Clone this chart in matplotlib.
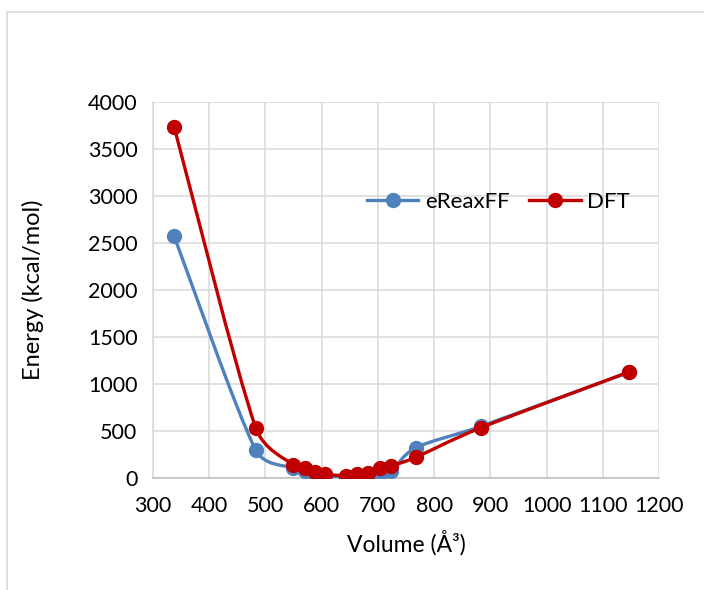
import matplotlib
matplotlib.use("Agg")
import matplotlib.pyplot as plt
from matplotlib.path import Path
from matplotlib.patches import PathPatch, Rectangle
from matplotlib.lines import Line2D
import numpy as np

plt.rcParams['font.family'] = ['Lato', 'DejaVu Sans']

# Cell volume (Å^3) and relative energy (kcal/mol)
volume = [338, 483, 550, 570, 588, 606, 643, 662, 683, 704, 724, 767, 883, 1146]
ereaxff = [2574, 298, 105, 75, 42, 20, 5, 5, 10, 30, 72, 320, 550, 1125]
dft = [3737, 535, 138, 103, 67, 39, 25, 39, 56, 103, 128, 220, 535, 1128]

series_names = ["eReaxFF", "DFT"]
x_ticks = [300, 400, 500, 600, 700, 800, 900, 1000, 1100, 1200]
y_ticks = [0, 500, 1000, 1500, 2000, 2500, 3000, 3500, 4000]

BLUE = "#4F81BD"
RED = "#C00000"
GRID = "#D9D9D9"


def smooth_path(ax, x, y, k=0.45):
    """Smoothed Bezier path through the points, built in display space.
    Handles follow the Catmull-Rom tangent but are capped relative to the
    on-screen length of each segment to avoid overshoot."""
    to_disp = ax.transData
    p = to_disp.transform(np.column_stack([x, y]).astype(float))
    n = len(p)

    def handle(v, seg):
        L = np.hypot(*v)
        if L == 0:
            return v
        length = min(L / 6.0, seg * k)
        return v / L * length

    verts = [p[0]]
    codes = [Path.MOVETO]
    for i in range(n - 1):
        p0 = p[i - 1] if i > 0 else p[i]
        p1 = p[i]
        p2 = p[i + 1]
        p3 = p[i + 2] if i + 2 < n else p[i + 1]
        seg = np.hypot(*(p2 - p1))
        c1 = p1 + handle(p2 - p0, seg)
        c2 = p2 - handle(p3 - p1, seg)
        verts += [c1, c2, p2]
        codes += [Path.CURVE4] * 3
    verts = to_disp.inverted().transform(np.array(verts))
    return Path(verts, codes)


fig = plt.figure(figsize=(7.04, 5.90), dpi=100)
ax = fig.add_axes([152.7 / 704, 1 - 478 / 590, (659.4 - 152.7) / 704, (478 - 102) / 590])
ax.set_xlim(300, 1200)
ax.set_ylim(0, 4000)

# outer chart border
fig.patches.append(Rectangle((6.5 / 704, -0.1), 1.2, 1.1 - 11.5 / 590,
                             transform=fig.transFigure, fill=False,
                             edgecolor=GRID, linewidth=1.2, zorder=0))

lw = 2.4
ms = 10
for vals, color, z in [(ereaxff, BLUE, 3), (dft, RED, 5)]:
    ax.add_patch(PathPatch(smooth_path(ax, volume, vals), fill=False,
                           edgecolor=color, linewidth=lw, zorder=z,
                           capstyle='round', joinstyle='round'))
    ax.plot(volume, vals, linestyle='none', marker='o', markersize=ms,
            color=color, zorder=z + 1)

ax.set_xticks(x_ticks)
ax.set_yticks(y_ticks)
ax.grid(True, color=GRID, linewidth=1.1, zorder=0)
ax.set_axisbelow(True)
for side in ["top", "right"]:
    ax.spines[side].set_visible(False)
ax.spines["left"].set_color(GRID)
ax.spines["bottom"].set_color("#BFBFBF")
ax.spines["left"].set_linewidth(1.1)
ax.spines["bottom"].set_linewidth(1.1)
ax.tick_params(length=0, labelsize=15.5, colors="#000000")
ax.tick_params(axis='x', pad=13)
ax.tick_params(axis='y', pad=11)

ax.set_xlabel("Volume (Å³)", fontsize=16.5, labelpad=10)
ax.set_ylabel("Energy (kcal/mol)", fontsize=17)
ax.yaxis.set_label_coords(-(152.7 - 44) / (659.4 - 152.7), 0.5)

handles = [Line2D([], [], color=BLUE, linewidth=lw, marker='o', markersize=ms),
           Line2D([], [], color=RED, linewidth=lw, marker='o', markersize=ms)]
fig.legend(handles, series_names, loc='center', bbox_to_anchor=(498.5 / 704, 1 - 201.7 / 590),
           ncol=2, frameon=False, fontsize=16, handlelength=2.3,
           handletextpad=0.3, columnspacing=0.9)

fig.savefig("out.png", dpi=100)
